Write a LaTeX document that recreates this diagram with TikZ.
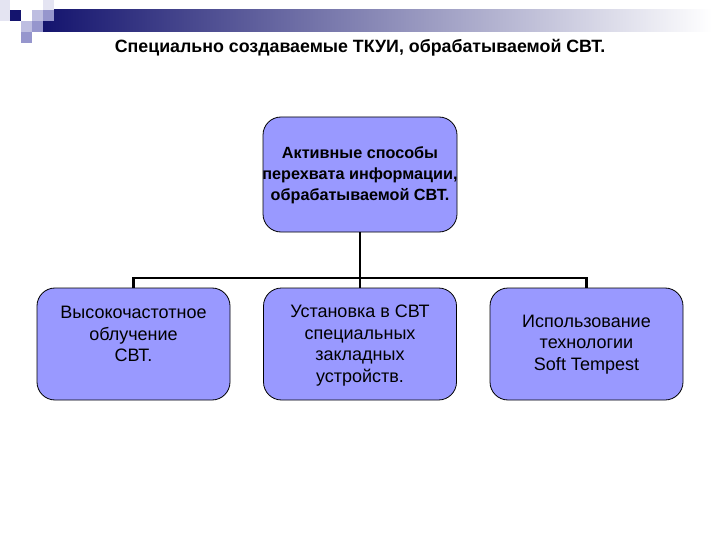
\documentclass[tikz,border=0pt]{standalone}
\usepackage{fontspec}
\setmainfont{Liberation Sans}
\usetikzlibrary{positioning}
\definecolor{boxfill}{RGB}{153,153,255}
\definecolor{navy}{RGB}{20,20,110}
\definecolor{sqpale}{RGB}{228,228,242}
\definecolor{sqlight}{RGB}{190,190,225}
\definecolor{sqmed}{RGB}{150,150,205}
\tikzset{
  box/.style={draw=black, line width=0.8pt, fill=boxfill, rounded corners=18pt, inner sep=0pt},
  topbox/.style={box, minimum width=194pt, minimum height=115pt},
  lowbox/.style={box, minimum width=193pt, minimum height=112pt},
  boxtext/.style={align=center, font=\fontsize{18}{21.5}\selectfont, inner sep=0pt},
  toptext/.style={align=center, font=\bfseries\fontsize{16.2}{21}\selectfont, inner sep=0pt},
  conn/.style={draw=black, line width=2.2pt}
}
\begin{document}
\begin{tikzpicture}[x=1pt,y=-1pt]
\useasboundingbox (0,0) rectangle (720,540);
\fill[white] (0,0) rectangle (720,540);
% decoration bar
\shade[left color=navy, right color=white] (43,10) rectangle (712,32);
\fill[sqpale] (0,0) rectangle (10,10);
\fill[sqpale] (0,10) rectangle (10,21);
\fill[sqpale] (43,0) rectangle (54,10);
\fill[navy] (10,10) rectangle (21,21);
\fill[sqlight] (32,10) rectangle (43,21);
\fill[sqmed] (43,10) rectangle (54,21);
\fill[sqlight] (21,21) rectangle (32,32);
\fill[sqmed] (32,21) rectangle (43,32);
\fill[sqmed] (21,32) rectangle (32,43);
% title
\node[inner sep=0pt, font=\bfseries\fontsize{17.8}{22}\selectfont] (title) at (360,48) {Специально создаваемые ТКУИ, обрабатываемой СВТ.};
% boxes
\node[topbox] (top) at (360,174.5) {};
\node[toptext] (toplbl) at (360,175) {Активные способы\\перехвата информации,\\обрабатываемой СВТ.};
\node[lowbox] (b1) at (133.5,344) {};
\node[lowbox] (b2) at (360,344) {};
\node[lowbox] (b3) at (586.5,344) {};
\node[boxtext] (b1t) at (133.5,334) {Высокочастотное\\облучение\\СВТ.};
\node[boxtext] (b2t) at (360,345.5) {Установка в СВТ\\специальных\\закладных\\устройств.};
\node[boxtext] (b3t) at (586.5,344.5) {Использование\\технологии\\Soft Tempest};
% connectors
\coordinate (hub) at (360,278);
\draw[conn] (top.south) -- (b2.north);
\draw[conn] (b1.north) -- (b1.north |- hub) -- (b3.north |- hub) -- (b3.north);
\end{tikzpicture}
\end{document}
